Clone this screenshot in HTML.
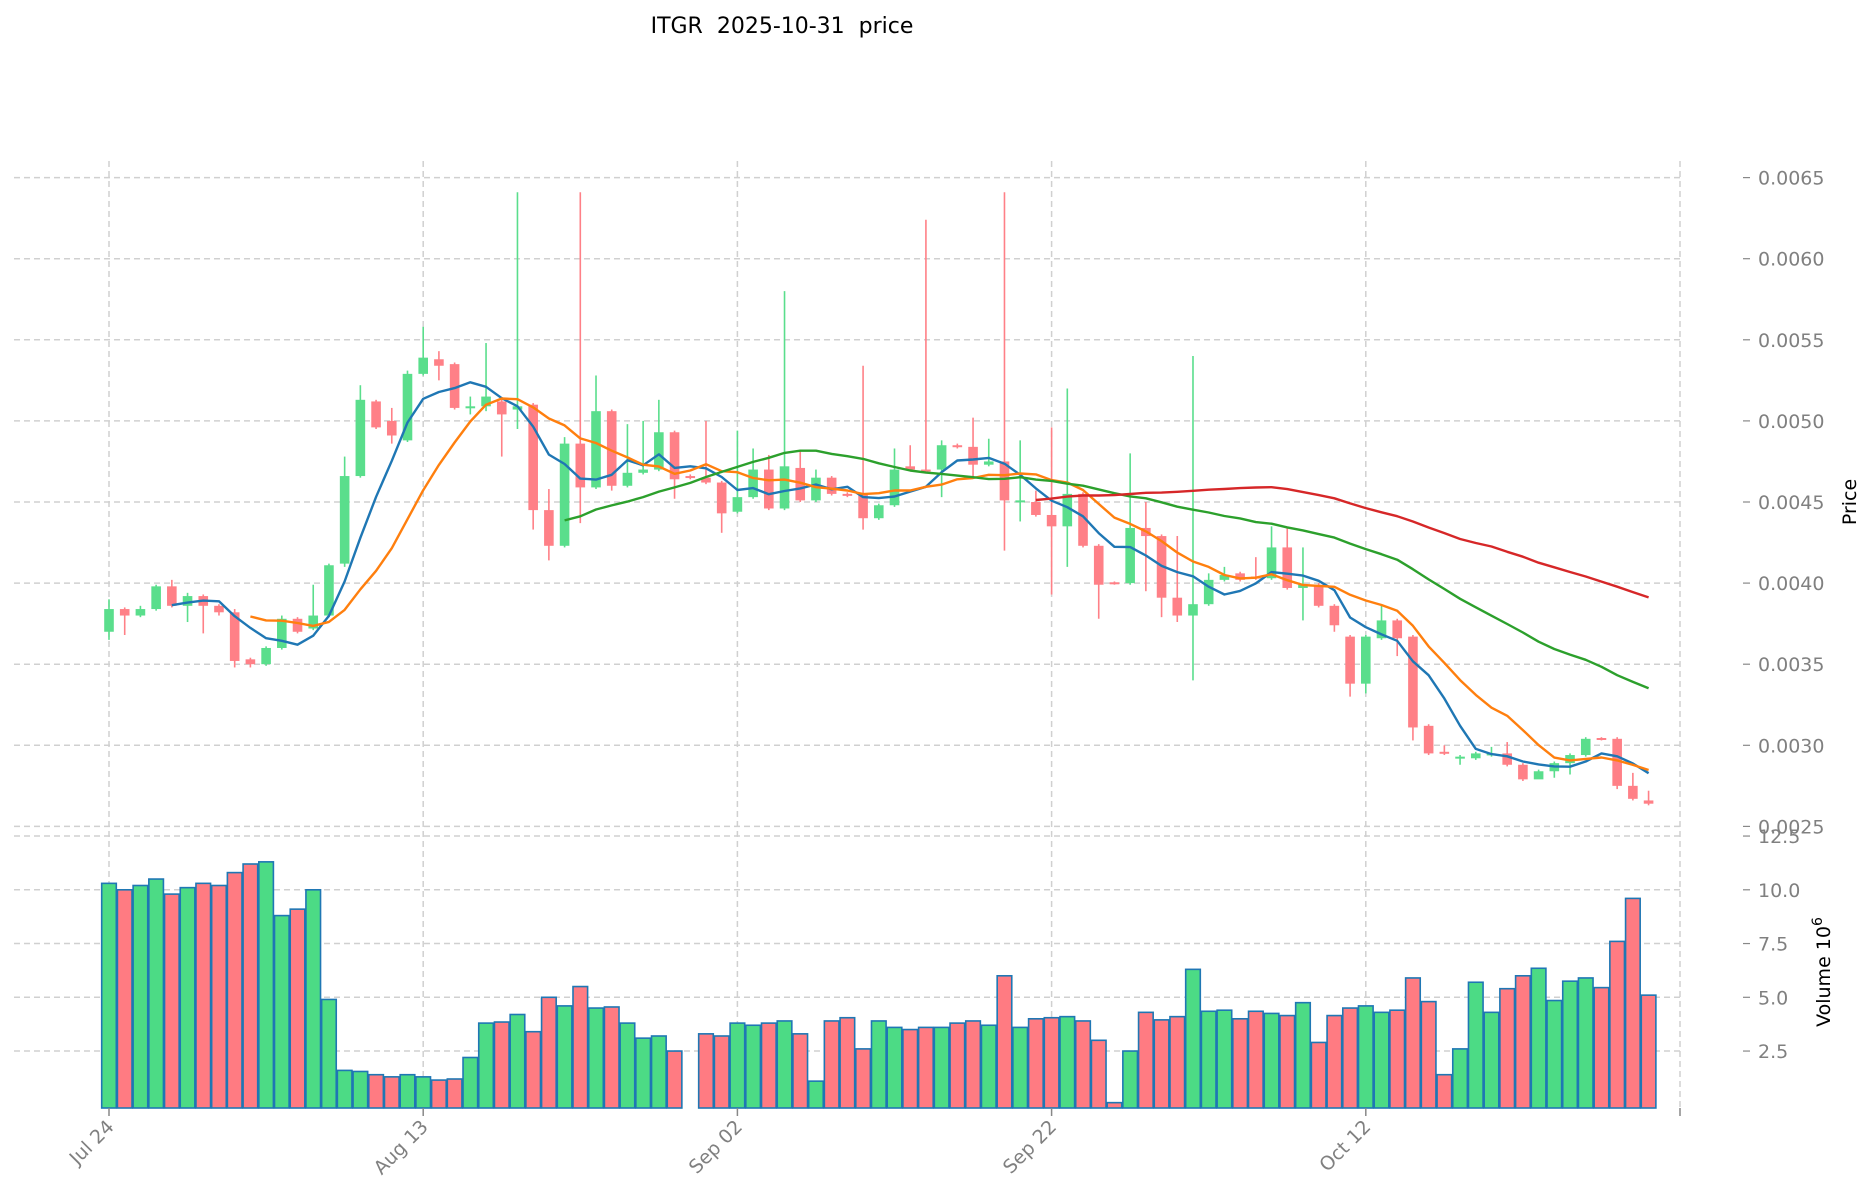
<!DOCTYPE html>
<html><head><meta charset="utf-8"><title>ITGR price</title>
<style>html,body{margin:0;padding:0;background:#fff;}svg{display:block;font-family:"DejaVu Sans","Liberation Sans",sans-serif;}</style>
</head><body>
<svg id="chart" width="1873" height="1202" viewBox="0 0 1873 1202" xmlns="http://www.w3.org/2000/svg">
<text x="782" y="33" font-size="22" text-anchor="middle" fill="#000" xml:space="preserve">ITGR  2025-10-31  price</text>
<g id="grid"></g><g id="vol"></g><g id="candles"></g><g id="mas"></g><g id="axes"></g>
<text transform="translate(1856,502) rotate(-90)" font-size="19" text-anchor="middle" fill="#000">Price</text>
<text transform="translate(1830,972) rotate(-90)" font-size="19" text-anchor="middle" fill="#000">Volume  10<tspan dy="-8" font-size="14">6</tspan></text>
</svg>
<script>
const opens  = [3.70,3.84,3.80,3.84,3.98,3.86,3.92,3.86,3.82,3.53,3.50,3.60,3.78,3.72,3.80,4.12,4.66,5.12,5.00,4.88,5.29,5.38,5.35,5.08,5.09,5.12,5.07,5.10,4.45,4.23,4.86,4.59,5.06,4.60,4.68,4.70,4.93,4.66,4.65,4.62,4.44,4.53,4.70,4.46,4.71,4.51,4.65,4.55,4.55,4.40,4.48,4.72,4.70,4.70,4.85,4.84,4.73,4.75,4.50,4.50,4.42,4.35,4.55,4.23,4.005,4.00,4.34,4.29,3.91,3.80,3.87,4.02,4.06,4.04,4.03,4.22,3.97,3.99,3.86,3.67,3.38,3.66,3.77,3.67,3.12,2.96,2.92,2.92,2.94,2.95,2.88,2.79,2.84,2.89,2.94,3.045,3.04,2.75,2.66];
const closes = [3.84,3.80,3.84,3.98,3.86,3.92,3.86,3.82,3.52,3.50,3.60,3.78,3.70,3.80,4.11,4.66,5.13,4.96,4.91,5.29,5.39,5.34,5.08,5.09,5.15,5.04,5.09,4.45,4.23,4.86,4.59,5.06,4.60,4.68,4.70,4.93,4.64,4.65,4.62,4.43,4.53,4.70,4.46,4.72,4.51,4.65,4.55,4.54,4.40,4.48,4.70,4.70,4.69,4.85,4.84,4.73,4.75,4.51,4.51,4.42,4.35,4.55,4.23,3.99,4.00,4.34,4.29,3.91,3.80,3.87,4.02,4.05,4.02,4.03,4.22,3.97,3.99,3.86,3.74,3.38,3.67,3.77,3.66,3.11,2.95,2.95,2.93,2.95,2.95,2.88,2.79,2.84,2.89,2.94,3.04,3.04,2.75,2.67,2.64];
const highs  = [3.90,3.85,3.86,3.99,4.02,3.94,3.93,3.87,3.84,3.54,3.61,3.80,3.79,3.99,4.12,4.78,5.22,5.13,5.08,5.31,5.58,5.43,5.36,5.15,5.48,5.13,6.41,5.11,4.58,4.90,6.41,5.28,5.07,4.98,5.00,5.13,4.94,4.67,5.00,4.63,4.94,4.83,4.79,5.80,4.82,4.70,4.66,4.56,5.34,4.49,4.83,4.85,6.24,4.88,4.86,5.02,4.89,6.41,4.88,4.57,4.96,5.20,4.56,4.24,4.01,4.80,4.50,4.30,4.29,5.40,4.06,4.10,4.07,4.16,4.35,4.34,4.22,4.00,3.87,3.68,3.68,3.86,3.78,3.68,3.13,3.00,2.94,2.96,2.99,3.02,2.89,2.85,2.90,2.95,3.05,3.05,3.05,2.83,2.72];
const lows   = [3.65,3.68,3.79,3.83,3.85,3.76,3.69,3.80,3.48,3.48,3.49,3.59,3.69,3.71,3.79,4.10,4.65,4.95,4.86,4.87,5.28,5.25,5.07,5.04,5.06,4.78,4.95,4.33,4.14,4.22,4.37,4.58,4.57,4.59,4.67,4.69,4.52,4.64,4.61,4.31,4.43,4.52,4.45,4.45,4.50,4.50,4.54,4.53,4.33,4.39,4.47,4.69,4.68,4.53,4.83,4.65,4.72,4.20,4.38,4.41,3.93,4.10,4.22,3.78,3.99,3.99,3.95,3.79,3.76,3.40,3.86,4.01,4.01,4.02,4.02,3.96,3.77,3.85,3.70,3.30,3.32,3.65,3.55,3.03,2.94,2.94,2.88,2.91,2.93,2.87,2.78,2.83,2.80,2.82,2.93,3.03,2.73,2.66,2.63];
const volumes = [10.3,10.0,10.2,10.5,9.8,10.1,10.3,10.2,10.8,11.2,11.3,8.8,9.1,10.0,4.9,1.6,1.55,1.4,1.3,1.4,1.3,1.15,1.2,2.2,3.8,3.85,4.2,3.4,5.0,4.6,5.5,4.5,4.55,3.8,3.1,3.2,2.5,0,3.3,3.2,3.8,3.7,3.8,3.9,3.3,1.1,3.9,4.05,2.6,3.9,3.6,3.5,3.6,3.6,3.8,3.9,3.7,6.0,3.6,4.0,4.05,4.1,3.9,3.0,0.1,2.5,4.3,3.95,4.1,6.3,4.35,4.4,4.0,4.35,4.25,4.15,4.75,2.9,4.15,4.5,4.6,4.3,4.4,5.9,4.8,1.4,2.6,5.7,4.3,5.4,6.0,6.35,4.85,5.75,5.9,5.45,7.6,9.6,5.1];
const dateLabels = ["Jul 24","Aug 13","Sep 02","Sep 22","Oct 12",""];
const dateTickIdx = [0,20,40,60,80,100];
const priceTicks = [0.0025,0.0030,0.0035,0.0040,0.0045,0.0050,0.0055,0.0060,0.0065];
const volTicks = [2.5,5.0,7.5,10.0,12.5];
const maPeriods = [5,10,30,60];
const maColors = ["#1f77b4","#ff7f0e","#2ca02c","#d62728"];

const NS="http://www.w3.org/2000/svg";
const L=14, R=1681;
const xs = i => 109 + i*15.71;
const yp = v => 177.6 + (6.5 - v)/0.5*81.1;      // v in 1e-3
const yv = v => 1104.8 - v*21.5;
function mk(parent,tag,attrs){const e=document.createElementNS(NS,tag);for(const k in attrs)e.setAttribute(k,attrs[k]);document.getElementById(parent).appendChild(e);return e;}

priceTicks.forEach((t,k)=>{const y=yp(t*1000);
 const g=mk('grid','line',{x1:L,x2:R,y1:y,y2:y,stroke:'#d0d0d0','stroke-width':1.5,'stroke-dasharray':'6,4'});
 
 
 mk('axes','line',{x1:1743,x2:1750,y1:y,y2:y,stroke:'#888','stroke-width':1.2});
 const tx=mk('axes','text',{x:1758,y:y+7,'font-size':19,fill:'#808080'});tx.textContent=t.toFixed(4);
 
 
});
volTicks.forEach(t=>{const y=yv(t);
 const g=mk('grid','line',{x1:L,x2:R,y1:y,y2:y,stroke:'#d0d0d0','stroke-width':1.5,'stroke-dasharray':'6,4'});
 
 
 mk('axes','line',{x1:1743,x2:1750,y1:y,y2:y,stroke:'#888','stroke-width':1.2});
 const tx=mk('axes','text',{x:1758,y:y+7,'font-size':19,fill:'#808080'});tx.textContent=t.toFixed(1);
 
 
});
dateTickIdx.forEach((d,k)=>{const x=xs(d);
 const g=mk('grid','line',{x1:x,x2:x,y1:161,y2:1108,stroke:'#d0d0d0','stroke-width':1.5,'stroke-dasharray':'6,4'});
 
 
 mk('axes','line',{x1:x,x2:x,y1:1108,y2:1116,stroke:'#888','stroke-width':1.5});
 if(dateLabels[k]){const tx=mk('axes','text',{transform:`translate(${x+6},${1128}) rotate(-45)`,'font-size':19,fill:'#808080','text-anchor':'end'});tx.textContent=dateLabels[k];
 
 }
});

const GREEN='#5ade8c', RED='#ff8087';
volumes.forEach((v,i)=>{if(v<=0)return;const up=closes[i]>=opens[i];const y=yv(v);
 const b=mk('vol','rect',{x:xs(i)-7.3,y:y,width:14.6,height:Math.max(0,1108-y),fill:up?'#4cdb85':'#ff7b82',stroke:'#1f77b4','stroke-width':1.6});
 
 
});
opens.forEach((o,i)=>{const c=closes[i];const up=c>=o;const col=up?GREEN:RED;const x=xs(i);
 const w=mk('candles','line',{x1:x,x2:x,y1:yp(highs[i]),y2:yp(lows[i]),stroke:col,'stroke-width':1.6});
 
 
 const top=yp(Math.max(o,c)), bot=yp(Math.min(o,c));
 const b=mk('candles','rect',{x:x-4.8,y:top,width:9.6,height:Math.max(2,bot-top),fill:col});
 
 
});
maPeriods.forEach((p,k)=>{let pts=[];
 for(let i=p-1;i<closes.length;i++){let s=0;for(let j=i-p+1;j<=i;j++)s+=closes[j];pts.push(xs(i).toFixed(1)+','+yp(s/p).toFixed(1));}
 const l=mk('mas','polyline',{points:pts.join(' '),fill:'none',stroke:maColors[k],'stroke-width':2.4,'stroke-linejoin':'round'});
 
 
});
</script>
</body></html>
